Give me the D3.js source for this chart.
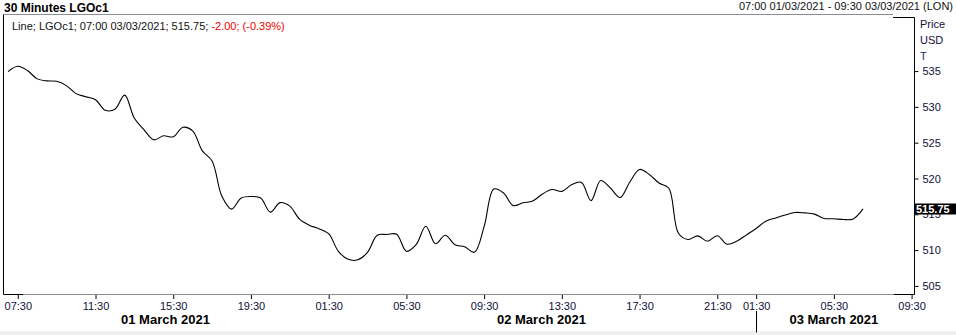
<!DOCTYPE html>
<html>
<head>
<meta charset="utf-8">
<script src="https://cdn.jsdelivr.net/npm/d3@7/dist/d3.min.js"></script>
<style>
  html, body { margin: 0; padding: 0; background: #fff; }
  svg { display: block; font-family: "Liberation Sans", Arial, sans-serif; }
</style>
</head>
<body>
<svg id="chart" width="956" height="335"></svg>
<script>
// ---- data (30-minute bars, index 0 = 07:00 01/03/2021, trading-time axis) ----
const values = [534.93,535.67,535.07,533.91,533.63,533.57,532.97,531.85,531.42,531.00,
  529.53,529.67,531.64,528.41,526.80,525.40,525.96,525.82,527.15,526.66,
  523.85,522.45,517.55,515.72,517.27,517.48,517.27,515.30,516.63,516.14,
  514.32,513.48,512.99,512.29,509.83,508.71,508.64,509.69,512.08,512.18,
  512.22,509.83,510.75,513.34,510.89,512.08,510.75,510.47,509.69,513.27,
  518.53,517.97,516.21,516.61,516.85,517.83,518.46,518.20,519.12,519.46,
  516.91,519.72,518.67,517.34,519.51,521.26,520.56,519.37,518.67,512.36,
  511.49,511.99,511.24,512.01,510.82,511.24,512.12,513.02,514.04,514.49,
  514.91,515.26,515.20,515.02,514.42,514.38,514.27,514.36,515.75];
const xTickIndex = [1, 9, 17, 25, 33, 41, 49, 57, 65, 73, 77, 85, 93];
const xTickLabels = ["07:30","11:30","15:30","19:30","01:30","05:30","09:30","13:30","17:30","21:30","01:30","05:30","09:30"];
const dayLabels = ["01 March 2021", "02 March 2021", "03 March 2021"];
const dayLabelIndex = [16.2, 54.9, 85.0];
const daySeparatorIndex = [77];
const yTicks = [505, 510, 515, 520, 525, 530, 535];
const lastValue = 515.75;
const title = "30 Minutes LGOc1";
const rangeText = "07:00 01/03/2021 - 09:30 03/03/2021 (LON)";
const legendMain = "Line; LGOc1; 07:00 03/03/2021; 515.75; ";
const legendChange = "-2.00; (-0.39%)";
const axisUnits = ["Price", "USD", "T"];

// ---- layout ----
const L = 3.5, R = 914.5, T = 14.5, B = 294.5;
const svg = d3.select("#chart");
svg.append("rect").attr("width", 956).attr("height", 335).attr("fill", "#fff");

const x = d3.scaleLinear().domain([-0.47, 93.3]).range([L, R]);
const y = d3.scaleLinear().domain([503.8, 542.9]).range([B, T]);

// bottom grey band
svg.append("rect").attr("x", 0).attr("y", 331).attr("width", 956).attr("height", 4).attr("fill", "#f0f0f0");

// header texts
svg.append("text").attr("x", 4).attr("y", 11.5).attr("font-size", 12).attr("font-weight", "bold")
  .attr("fill", "#000").text(title);
svg.append("text").attr("x", 953).attr("y", 10).attr("font-size", 11).attr("text-anchor", "end")
  .attr("fill", "#111").text(rangeText);

// frame
svg.append("line").attr("x1", L).attr("x2", 893).attr("y1", T).attr("y2", T).attr("stroke", "#8c8c96");
svg.append("line").attr("x1", 893).attr("x2", R).attr("y1", 17.5).attr("y2", 17.5).attr("stroke", "#000");
svg.append("line").attr("x1", 23).attr("x2", 894).attr("y1", B).attr("y2", B).attr("stroke", "#8c8c96");
svg.append("line").attr("x1", L).attr("x2", 23).attr("y1", B).attr("y2", B).attr("stroke", "#000");
svg.append("line").attr("x1", 894).attr("x2", R).attr("y1", B).attr("y2", B).attr("stroke", "#000");
svg.append("line").attr("x1", L).attr("x2", L).attr("y1", T).attr("y2", B).attr("stroke", "#000");
svg.append("line").attr("x1", R).attr("x2", R).attr("y1", 17.5).attr("y2", B).attr("stroke", "#000");

// legend
const leg = svg.append("text").attr("x", 12).attr("y", 29.5).attr("font-size", 11);
leg.append("tspan").attr("fill", "#111").text(legendMain);
leg.append("tspan").attr("fill", "#f00000").text(legendChange);

// clip + line
svg.append("clipPath").attr("id", "plotClip").append("rect")
  .attr("x", L + 0.5).attr("y", T + 0.5).attr("width", R - L - 1).attr("height", B - T - 1);
const line = d3.line().x((d, i) => x(i)).y(d => y(d)).curve(d3.curveCatmullRom.alpha(0.5));
svg.append("path").datum(values).attr("clip-path", "url(#plotClip)")
  .attr("d", line).attr("fill", "none").attr("stroke", "#000").attr("stroke-width", 1.1);

// right axis
const yAxis = d3.axisRight(y).tickValues(yTicks).tickSize(4).tickPadding(4).tickFormat(d3.format("d"));
const gy = svg.append("g").attr("transform", `translate(${R},0)`).call(yAxis);
gy.select(".domain").remove();
gy.selectAll("text").attr("font-size", 11).attr("font-family", "Liberation Sans, Arial, sans-serif").attr("fill", "#10103a");
gy.selectAll("line").attr("stroke", "#000");

axisUnits.forEach((t, i) => {
  svg.append("text").attr("x", 920).attr("y", 27.5 + i * 16).attr("font-size", 11)
    .attr("fill", i === 2 ? "#1a2a70" : "#10103a").text(t);
});

// last value box (covers the tick label beneath it, as in the original)
const yl = y(lastValue);
svg.append("rect").attr("x", R).attr("y", Math.round(yl) - 5.5).attr("width", 956 - R).attr("height", 11).attr("fill", "#000");
svg.append("text").attr("x", 916).attr("y", Math.round(yl) + 4).attr("font-size", 11).attr("font-weight", "bold")
  .attr("fill", "#fff").text(lastValue.toFixed(2));

// bottom axis
const xAxis = d3.axisBottom(x).tickValues(xTickIndex).tickSize(4).tickPadding(3)
  .tickFormat((d, i) => xTickLabels[i]);
const gx = svg.append("g").attr("transform", `translate(0,${B + 0.5})`).call(xAxis);
gx.select(".domain").remove();
gx.selectAll("text").attr("font-size", 11).attr("font-family", "Liberation Sans, Arial, sans-serif").attr("fill", "#10103a");
gx.selectAll("line").attr("stroke", "#000");

// day separators (below the time labels)
daySeparatorIndex.forEach(i => {
  svg.append("line").attr("x1", Math.round(x(i)) + 0.5).attr("x2", Math.round(x(i)) + 0.5)
    .attr("y1", 311).attr("y2", 332.5).attr("stroke", "#000");
});

// day labels
dayLabels.forEach((t, i) => {
  svg.append("text").attr("x", x(dayLabelIndex[i])).attr("y", 324).attr("font-size", 13)
    .attr("font-weight", "bold").attr("text-anchor", "middle").attr("fill", "#000").text(t);
});
</script>
</body>
</html>
